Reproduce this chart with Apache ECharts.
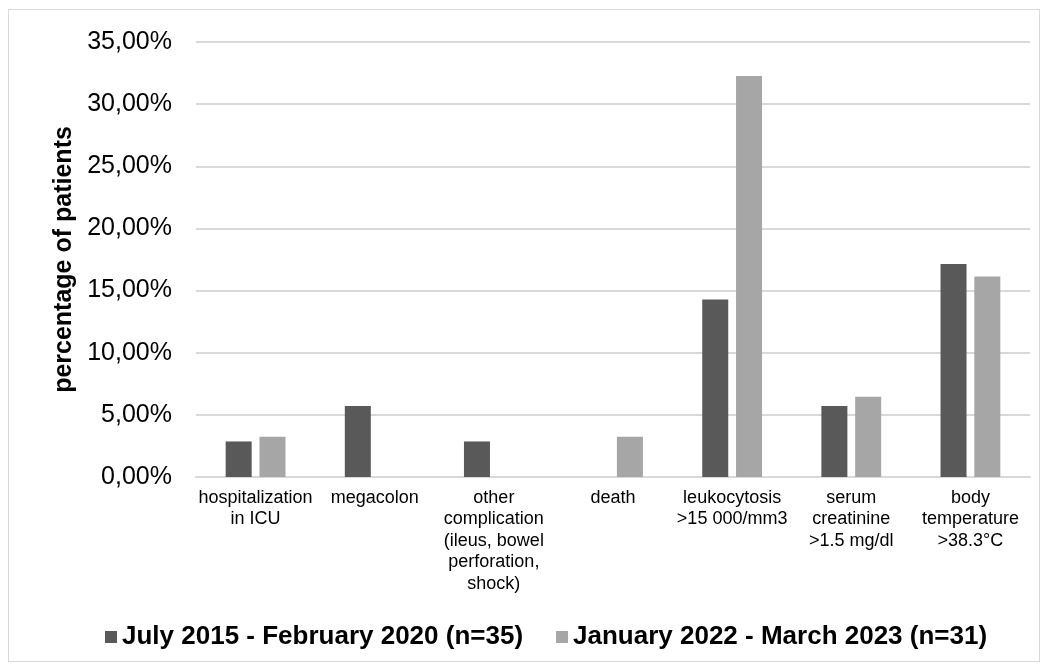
<!DOCTYPE html>
<html>
<head>
<meta charset="utf-8">
<script src="https://cdn.jsdelivr.net/npm/echarts@6/dist/echarts.min.js"></script>
<style>
  html, body { margin: 0; padding: 0; background: #fff; }
  .frame {
    position: absolute; left: 8px; top: 9px; width: 1032px; height: 653px;
    border: 1px solid #d9d9d9; box-sizing: border-box;
  }
  #main { position: absolute; left: 0; top: 0; width: 1049px; height: 670px; }
</style>
</head>
<body>
<div class="frame"></div>
<div id="main"></div>
<script>
// categories (x axis)
const categories = [
  'hospitalization\nin ICU',
  'megacolon',
  'other\ncomplication\n(ileus, bowel\nperforation,\nshock)',
  'death',
  'leukocytosis\n>15 000/mm3',
  'serum\ncreatinine\n>1.5 mg/dl',
  'body\ntemperature\n>38.3°C'
]
// percentage of patients
const period1 = [2.86, 5.71, 2.86, 0, 14.29, 5.71, 17.14]
const period2 = [3.23, 0, 0, 3.23, 32.26, 6.45, 16.13]
const seriesNames = ['July 2015 - February 2020 (n=35)', 'January 2022 - March 2023 (n=31)']
const yTicks = { min: 0, max: 35, interval: 5 }

const myChart = echarts.init(document.getElementById('main'))
myChart.setOption({
    animation: false,
    textStyle: { fontFamily: 'Liberation Sans, Arial, sans-serif' },
    legend: {
        data: seriesNames,
        bottom: 15,
        left: 100,
        itemWidth: 12,
        itemHeight: 12,
        itemGap: 33,
        icon: 'rect',
        textStyle: { fontSize: 26, fontWeight: 'bold', color: '#000' }
    },
    grid: { left: 196, right: 19, top: 42, bottom: 193 },
    xAxis: {
        type: 'category',
        data: categories,
        axisLine: { lineStyle: { color: '#d9d9d9', width: 2 } },
        axisTick: { show: false },
        axisLabel: {
            interval: 0,
            fontSize: 18,
            lineHeight: 21.5,
            color: '#000',
            margin: 10,
            verticalAlign: 'top'
        }
    },
    yAxis: {
        type: 'value',
        min: yTicks.min,
        max: yTicks.max,
        interval: yTicks.interval,
        name: 'percentage of patients',
        nameLocation: 'middle',
        nameGap: 118,
        nameTextStyle: { fontSize: 25, fontWeight: 'bold', color: '#000' },
        axisLine: { show: false },
        axisTick: { show: false },
        splitLine: { lineStyle: { color: '#d9d9d9', width: 2 } },
        axisLabel: {
            fontSize: 25,
            color: '#000',
            margin: 24,
            formatter: v => v.toFixed(2).replace('.', ',') + '%'
        }
    },
    series: [
        {
            name: seriesNames[0],
            type: 'bar',
            data: period1,
            barWidth: 26,
            barGap: '30%',
            itemStyle: { color: '#595959' }
        },
        {
            name: seriesNames[1],
            type: 'bar',
            data: period2,
            barWidth: 26,
            itemStyle: { color: '#a6a6a6' }
        }
    ]
})
</script>
</body>
</html>
